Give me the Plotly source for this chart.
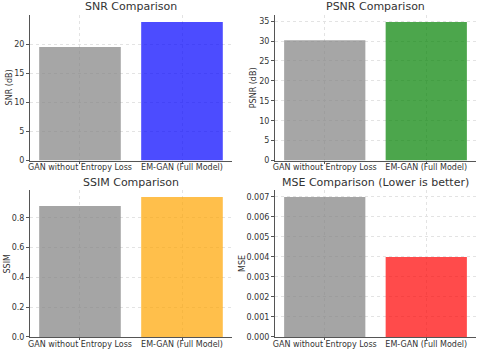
import plotly.graph_objects as go
from plotly.subplots import make_subplots

models = ["GAN without Entropy Loss", "EM-GAN (Full Model)"]
snr = [19.5, 23.8]
psnr = [30.2, 34.8]
ssim = [0.88, 0.94]
mse = [0.007, 0.004]

titles = ["SNR Comparison", "PSNR Comparison", "SSIM Comparison", "MSE Comparison (Lower is better)"]
ylabels = ["SNR (dB)", "PSNR (dB)", "SSIM", "MSE"]
colors = [["gray", "blue"], ["gray", "green"], ["gray", "orange"], ["gray", "red"]]
dticks = [5, 5, 0.2, 0.001]
formats = ["d", "d", ".1f", ".3f"]

fig = make_subplots(rows=2, cols=2)

xdom = [[0.0625, 0.4833], [0.5729, 0.9917]]
ydom = [[0.5398, 0.957], [0.0344, 0.4556]]
title_y = [0.98, 0.4777]
ylabel_x = [0.02, 0.528, 0.0146, 0.505]

font = "DejaVu Sans"
for i, vals in enumerate([snr, psnr, ssim, mse]):
    r, c = i // 2 + 1, i % 2 + 1
    fig.add_trace(go.Bar(x=models, y=vals, width=0.8, marker_color=colors[i],
                         opacity=0.7, marker_line_width=0, showlegend=False), row=r, col=c)
    fig.update_xaxes(domain=xdom[c - 1], range=[-0.49, 1.49], showline=True, linecolor="#555",
                     linewidth=1, ticks="outside", ticklen=2, tickcolor="#555", tickangle=0,
                     ticklabelstandoff=-3,
                     automargin=False, showgrid=True, gridcolor="#e3e3e3", griddash="dot",
                     tickfont=dict(size=8, color="#333"), row=r, col=c)
    fig.update_yaxes(domain=ydom[r - 1], range=[0, max(vals) * 1.05], dtick=dticks[i],
                     tickformat=formats[i], showline=True, linecolor="#555", linewidth=1,
                     ticks="outside", ticklen=3, tickcolor="#555", showgrid=True,
                     gridcolor="#e3e3e3", griddash="dot", zeroline=False, automargin=False,
                     tickfont=dict(size=8, color="#333"), row=r, col=c)
    fig.add_annotation(text=titles[i], xref="paper", yref="paper",
                       x=sum(xdom[c - 1]) / 2, y=title_y[r - 1],
                       xanchor="center", yanchor="middle", showarrow=False,
                       font=dict(size=11, color="#333"))
    fig.add_annotation(text=ylabels[i], xref="paper", yref="paper", textangle=-90,
                       x=ylabel_x[i], y=sum(ydom[r - 1]) / 2,
                       xanchor="center", yanchor="middle", showarrow=False,
                       font=dict(size=8, color="#333"))

fig.update_layout(width=480, height=349, margin=dict(l=0, r=0, t=0, b=0),
                  plot_bgcolor="white", paper_bgcolor="white", font=dict(family=font),
                  bargap=0.2)
fig.write_html("out.html", config={"displayModeBar": False},
               post_script="document.body.style.margin='0';")
